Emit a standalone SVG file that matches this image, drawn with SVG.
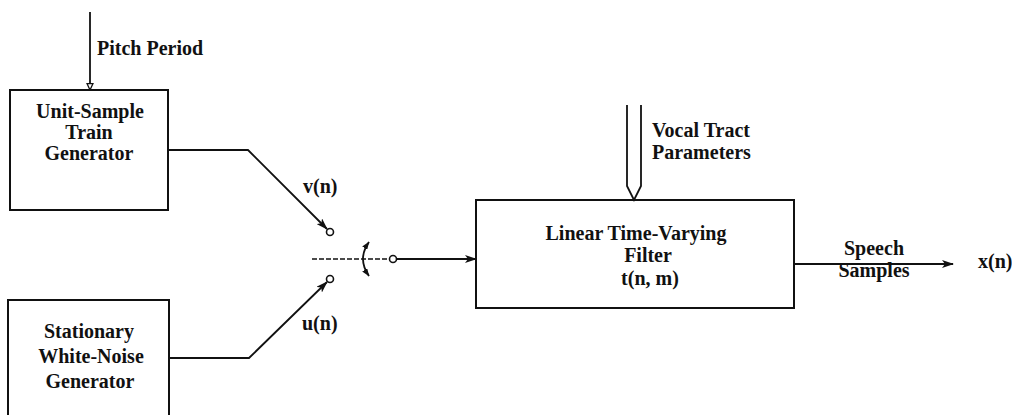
<svg xmlns="http://www.w3.org/2000/svg" width="1012" height="415" viewBox="0 0 1012 415">
<style>
text{font-family:"Liberation Serif","Times New Roman",serif;font-weight:bold;font-size:20px;fill:#111}
.c{text-anchor:middle}
.box{fill:none;stroke:#111;stroke-width:2}
.ln{fill:none;stroke:#111;stroke-width:1.8}
.dash{fill:none;stroke:#111;stroke-width:1.5;stroke-dasharray:5 2}
.ct{fill:#fff;stroke:#111;stroke-width:1.6}
</style>
<defs>
<marker id="ah" viewBox="0 0 12 8" refX="11" refY="4" markerWidth="12" markerHeight="8" markerUnits="userSpaceOnUse" orient="auto">
<path d="M0,0 L12,4 L0,8 L3,4 Z" fill="#111"/>
</marker>
<marker id="ahs" viewBox="0 0 8 6" refX="7.5" refY="3" markerWidth="8" markerHeight="6" markerUnits="userSpaceOnUse" orient="auto">
<path d="M0,0 L8,3 L0,6 Z" fill="#111"/>
</marker>
<marker id="ahsr" viewBox="0 0 8 6" refX="0.5" refY="3" markerWidth="8" markerHeight="6" markerUnits="userSpaceOnUse" orient="auto">
<path d="M8,0 L0,3 L8,6 Z" fill="#111"/>
</marker>
<marker id="aho" viewBox="0 0 8 8" refX="4" refY="7.5" markerWidth="8" markerHeight="8" markerUnits="userSpaceOnUse" orient="0">
<path d="M1,1 L4,7.5 L7,1 Z" fill="#fff" stroke="#111" stroke-width="1.3"/>
</marker>
</defs>

<g id="connectors">
<line class="ln" x1="90" y1="12" x2="90" y2="90" marker-end="url(#aho)"/>
<polyline class="ln" points="168,150 248,150 327,229" marker-end="url(#ah)"/>
<polyline class="ln" points="169,358 249,358 327,282" marker-end="url(#ah)"/>
<line class="dash" x1="312" y1="259" x2="389" y2="259"/>
<path class="ln" d="M369,242 Q357,259 369,276" marker-start="url(#ahsr)" marker-end="url(#ahs)"/>
<line class="ln" x1="397" y1="259" x2="476" y2="259" marker-end="url(#ah)"/>
<path class="ln" d="M627,105 L627,186 L634,200 L641,186 L641,105"/>
<line class="ln" x1="794" y1="264" x2="953" y2="264" marker-end="url(#ah)"/>
<circle class="ct" cx="330" cy="232" r="3.5"/>
<circle class="ct" cx="330" cy="279" r="3.5"/>
<circle class="ct" cx="393" cy="259" r="3.5"/>
</g>

<g id="pitch-label"><text x="97" y="55">Pitch Period</text></g>

<g id="unit-sample">
<rect class="box" x="10" y="90" width="158" height="120"/>
<text class="c" x="90" y="118">Unit-Sample</text>
<text class="c" x="89" y="139">Train</text>
<text class="c" x="89" y="160">Generator</text>
</g>

<g id="white-noise">
<path class="box" d="M8,416 L8,300 L169,300 L169,416"/>
<text class="c" x="89" y="338">Stationary</text>
<text class="c" x="91" y="363">White-Noise</text>
<text class="c" x="90" y="388">Generator</text>
</g>

<g id="labels">
<text x="303" y="193">v(n)</text>
<text x="302" y="330">u(n)</text>
</g>

<g id="filter">
<rect class="box" x="476" y="200" width="318" height="108"/>
<text class="c" x="636" y="240">Linear Time-Varying</text>
<text class="c" x="648" y="262">Filter</text>
<text class="c" x="650" y="285">t(n, m)</text>
</g>

<g id="vocal-label">
<text x="652" y="137">Vocal Tract</text>
<text x="652" y="159">Parameters</text>
</g>

<g id="output">
<text class="c" x="874" y="255">Speech</text>
<text class="c" x="874" y="277">Samples</text>
<text x="978" y="268">x(n)</text>
</g>
</svg>
